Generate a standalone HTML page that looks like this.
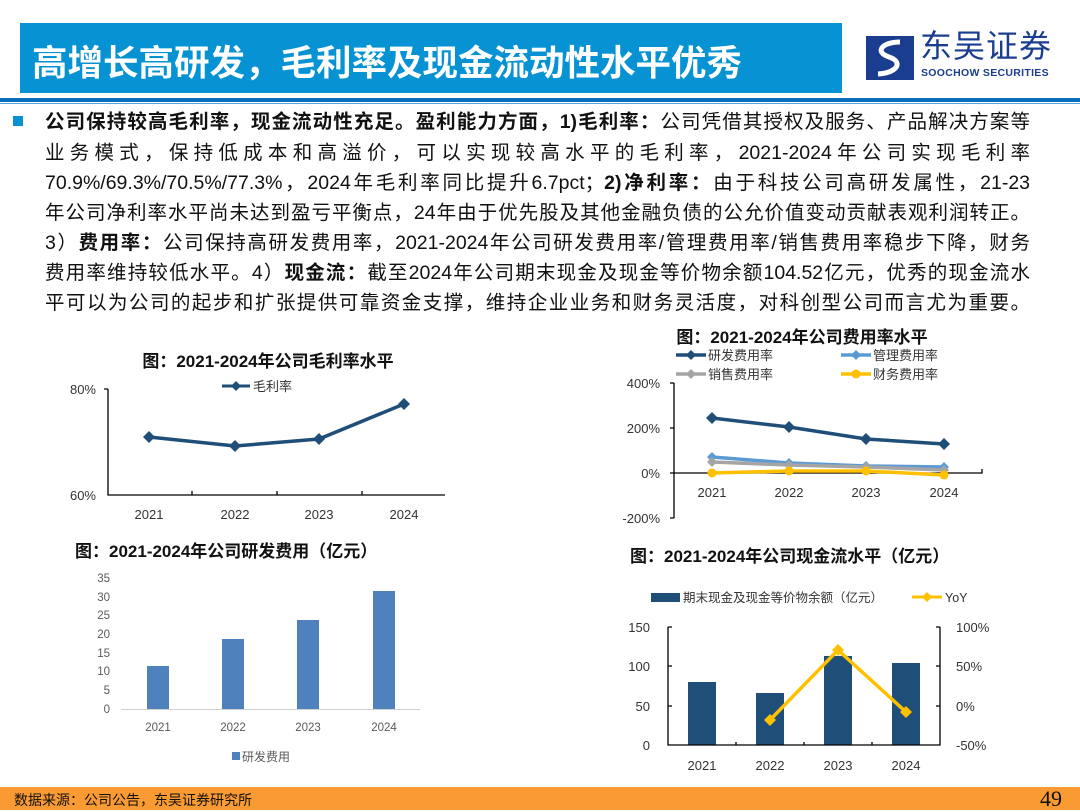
<!DOCTYPE html>
<html><head><meta charset="utf-8"><style>
body{margin:0;width:1080px;height:810px;position:relative;background:#fff;font-family:"Liberation Sans","Noto Sans CJK SC",sans-serif;overflow:hidden}
.ln{position:absolute;left:45px;width:985px;font-size:19.5px;color:#111;text-align:justify;text-align-last:justify;white-space:nowrap;line-height:30px}
b{font-weight:bold}
svg{position:absolute;left:0;top:0}
</style></head><body>
<div style="position:absolute;left:20px;top:23px;width:822px;height:70px;background:#0793d3"></div>
<div style="position:absolute;left:32px;top:35px;font-size:35.5px;font-weight:bold;color:#fff">高增长高研发，毛利率及现金流动性水平优秀</div>
<div style="position:absolute;left:0;top:98px;width:1080px;height:4px;background:#0a6fb9"></div>
<div style="position:absolute;left:0;top:103px;width:1080px;height:1px;background:#5aa6dc"></div>
<div style="position:absolute;left:920px;top:26px;font-size:32px;line-height:40px;color:#1b3d8f;letter-spacing:1px">东吴证券</div>
<div style="position:absolute;left:921px;top:67px;font-size:10.5px;font-weight:bold;color:#1b3d8f;letter-spacing:0.3px">SOOCHOW SECURITIES</div>
<div style="position:absolute;left:13px;top:116px;width:10px;height:10px;background:#0793d3"></div>
<div class="ln" style="top:107px"><b>公司保持较高毛利率，现金流动性充足。盈利能力方面，1)毛利率：</b>公司凭借其授权及服务、产品解决方案等</div>
<div class="ln" style="top:138px">业务模式，保持低成本和高溢价，可以实现较高水平的毛利率，2021-2024年公司实现毛利率</div>
<div class="ln" style="top:168px">70.9%/69.3%/70.5%/77.3%，2024年毛利率同比提升6.7pct；<b>2)净利率：</b>由于科技公司高研发属性，21-23</div>
<div class="ln" style="top:198px">年公司净利率水平尚未达到盈亏平衡点，24年由于优先股及其他金融负债的公允价值变动贡献表观利润转正。</div>
<div class="ln" style="top:228px">3）<b>费用率：</b>公司保持高研发费用率，2021-2024年公司研发费用率/管理费用率/销售费用率稳步下降，财务</div>
<div class="ln" style="top:258px">费用率维持较低水平。4）<b>现金流：</b>截至2024年公司期末现金及现金等价物余额104.52亿元，优秀的现金流水</div>
<div class="ln" style="top:288px">平可以为公司的起步和扩张提供可靠资金支撑，维持企业业务和财务灵活度，对科创型公司而言尤为重要。</div>
<div style="position:absolute;left:0;top:787px;width:1080px;height:23px;background:#f99a33"></div>
<div style="position:absolute;left:14px;top:790px;font-size:14px;color:#111">数据来源：公司公告，东吴证券研究所</div>
<div style="position:absolute;left:1040px;top:786px;font-size:22px;font-family:'Liberation Serif',serif;color:#111">49</div>
<svg width="1080" height="810" font-family="Liberation Sans, Noto Sans CJK SC, sans-serif">
<rect x="866" y="36" width="48" height="44" fill="#1b3d8f"/>
<path d="M900 42 C882 42 874 52 889 57 C904 62 897 73 878 74" stroke="#fff" stroke-width="5" fill="none"/>
<text x="268" y="367" font-size="17" font-weight="bold" text-anchor="middle" fill="#111">图：2021-2024年公司毛利率水平</text>
<line x1="222" y1="386" x2="250" y2="386" stroke="#1f4e79" stroke-width="3"/><path d="M236 381 l5 5 -5 5 -5 -5z" fill="#1f4e79"/>
<text x="253" y="391" font-size="13" fill="#333">毛利率</text>
<g font-size="13" fill="#333">
<text x="96" y="394" text-anchor="end">80%</text><text x="96" y="500" text-anchor="end">60%</text>
<text x="149" y="519" text-anchor="middle">2021</text><text x="235" y="519" text-anchor="middle">2022</text><text x="319" y="519" text-anchor="middle">2023</text><text x="404" y="519" text-anchor="middle">2024</text></g>
<path d="M108 389 V495 H445 M104 389 H108 M192 495 v-4 M277 495 v-4 M362 495 v-4" stroke="#000" stroke-width="1.3" fill="none"/>
<polyline points="149,437 235,446 319,439 404,404" stroke="#1f4e79" stroke-width="3.5" fill="none"/>
<g fill="#1f4e79"><path d="M149 431 l6 6 -6 6 -6 -6z"/><path d="M235 440 l6 6 -6 6 -6 -6z"/><path d="M319 433 l6 6 -6 6 -6 -6z"/><path d="M404 398 l6 6 -6 6 -6 -6z"/></g>
<text x="802" y="343" font-size="17" font-weight="bold" text-anchor="middle" fill="#111">图：2021-2024年公司费用率水平</text>
<g font-size="13" fill="#333">
<line x1="676" y1="355" x2="706" y2="355" stroke="#1f4e79" stroke-width="3.5"/><path d="M691 350 l5 5 -5 5 -5 -5z" fill="#1f4e79"/><text x="708" y="360">研发费用率</text>
<line x1="841" y1="355" x2="871" y2="355" stroke="#5b9bd5" stroke-width="3.5"/><path d="M856 350 l5 5 -5 5 -5 -5z" fill="#5b9bd5"/><text x="873" y="360">管理费用率</text>
<line x1="676" y1="374" x2="706" y2="374" stroke="#a5a5a5" stroke-width="3.5"/><path d="M691 369 l5 5 -5 5 -5 -5z" fill="#a5a5a5"/><text x="708" y="379">销售费用率</text>
<line x1="841" y1="374" x2="871" y2="374" stroke="#ffc000" stroke-width="3.5"/><circle cx="856" cy="374" r="4.5" fill="#ffc000"/><text x="873" y="379">财务费用率</text>
<text x="660" y="388" text-anchor="end">400%</text><text x="660" y="433" text-anchor="end">200%</text><text x="660" y="478" text-anchor="end">0%</text><text x="660" y="523" text-anchor="end">-200%</text>
<text x="712" y="497" text-anchor="middle">2021</text><text x="789" y="497" text-anchor="middle">2022</text><text x="866" y="497" text-anchor="middle">2023</text><text x="944" y="497" text-anchor="middle">2024</text></g>
<path d="M674 383 V518 M670 383 H674 M670 428 H674 M670 518 H674 M670 473 H982 v-4" stroke="#000" stroke-width="1.3" fill="none"/>
<polyline points="712,457 789,463 866,466 944,467" stroke="#5b9bd5" stroke-width="3.5" fill="none"/>
<g fill="#5b9bd5"><path d="M712 452 l5 5 -5 5 -5 -5z"/><path d="M789 458 l5 5 -5 5 -5 -5z"/><path d="M866 461 l5 5 -5 5 -5 -5z"/><path d="M944 462 l5 5 -5 5 -5 -5z"/></g>
<polyline points="712,462 789,465 866,467 944,470" stroke="#a5a5a5" stroke-width="3.5" fill="none"/>
<g fill="#a5a5a5"><path d="M712 457 l5 5 -5 5 -5 -5z"/><path d="M789 460 l5 5 -5 5 -5 -5z"/><path d="M866 462 l5 5 -5 5 -5 -5z"/><path d="M944 465 l5 5 -5 5 -5 -5z"/></g>
<polyline points="712,473 789,471 866,471 944,475" stroke="#ffc000" stroke-width="3.5" fill="none"/>
<g fill="#ffc000"><circle cx="712" cy="473" r="4.5"/><circle cx="789" cy="471" r="4.5"/><circle cx="866" cy="471" r="4.5"/><circle cx="944" cy="475" r="4.5"/></g>
<polyline points="712,418 789,427 866,439 944,444" stroke="#1f4e79" stroke-width="3.5" fill="none"/>
<g fill="#1f4e79"><path d="M712 412 l6 6 -6 6 -6 -6z"/><path d="M789 421 l6 6 -6 6 -6 -6z"/><path d="M866 433 l6 6 -6 6 -6 -6z"/><path d="M944 438 l6 6 -6 6 -6 -6z"/></g>
<text x="75" y="557" font-size="17" font-weight="bold" fill="#111">图：2021-2024年公司研发费用（亿元）</text>
<g font-size="11.5" fill="#595959" text-anchor="end">
<text x="110" y="582">35</text><text x="110" y="601">30</text><text x="110" y="619">25</text><text x="110" y="638">20</text><text x="110" y="657">15</text><text x="110" y="675">10</text><text x="110" y="694">5</text><text x="110" y="713">0</text></g>
<g font-size="11.5" fill="#595959" text-anchor="middle"><text x="158" y="731">2021</text><text x="233" y="731">2022</text><text x="308" y="731">2023</text><text x="384" y="731">2024</text></g>
<line x1="121" y1="709.5" x2="420" y2="709.5" stroke="#d0d0d0"/>
<g fill="#4f81bd"><rect x="147" y="666" width="22" height="43"/><rect x="222" y="639" width="22" height="70"/><rect x="297" y="620" width="22" height="89"/><rect x="373" y="591" width="22" height="118"/></g>
<rect x="232" y="752" width="8" height="8" fill="#4f81bd"/><text x="242" y="761" font-size="12" fill="#595959">研发费用</text>
<text x="630" y="562" font-size="17" font-weight="bold" fill="#111">图：2021-2024年公司现金流水平（亿元）</text>
<rect x="651" y="593" width="29" height="9" fill="#1f4e79"/><text x="683" y="602" font-size="12.5" fill="#333">期末现金及现金等价物余额（亿元）</text>
<line x1="912" y1="597" x2="942" y2="597" stroke="#ffc000" stroke-width="3"/><path d="M927 592 l5 5 -5 5 -5 -5z" fill="#ffc000"/><text x="945" y="602" font-size="12.5" fill="#333">YoY</text>
<g font-size="13" fill="#333"><text x="650" y="632" text-anchor="end">150</text><text x="650" y="671" text-anchor="end">100</text><text x="650" y="711" text-anchor="end">50</text><text x="650" y="750" text-anchor="end">0</text>
<text x="956" y="632">100%</text><text x="956" y="671">50%</text><text x="956" y="711">0%</text><text x="956" y="750">-50%</text>
<text x="702" y="770" text-anchor="middle">2021</text><text x="770" y="770" text-anchor="middle">2022</text><text x="838" y="770" text-anchor="middle">2023</text><text x="906" y="770" text-anchor="middle">2024</text></g>
<g fill="#1f4e79"><rect x="688" y="682" width="28" height="63"/><rect x="756" y="693" width="28" height="52"/><rect x="824" y="656" width="28" height="89"/><rect x="892" y="663" width="28" height="82"/></g>
<path d="M668 627 V745 H940 V627 M668 627 h4 M668 666 h4 M668 706 h4 M936 627 h4 M936 666 h4 M936 706 h4 M736 745 v-3 M804 745 v-3 M872 745 v-3" stroke="#000" stroke-width="1.3" fill="none"/>
<polyline points="770,720 838,650 906,712" stroke="#ffc000" stroke-width="3.5" fill="none"/>
<g fill="#ffc000"><path d="M770 714 l6 6 -6 6 -6 -6z"/><path d="M838 644 l6 6 -6 6 -6 -6z"/><path d="M906 706 l6 6 -6 6 -6 -6z"/></g>
</svg>
</body></html>
